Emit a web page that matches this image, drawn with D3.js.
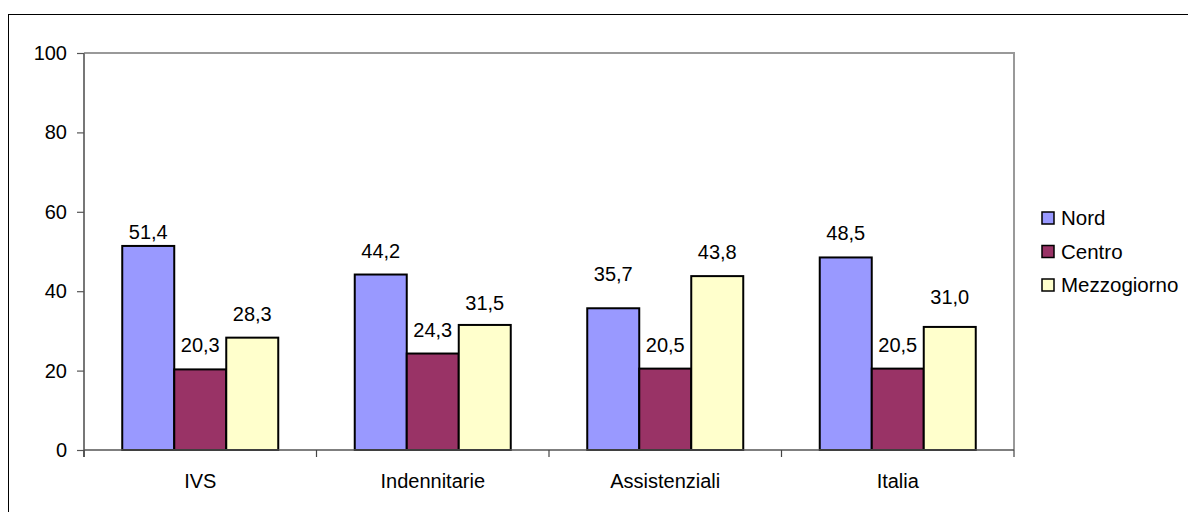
<!DOCTYPE html>
<html><head><meta charset="utf-8">
<script src="https://cdn.jsdelivr.net/npm/d3@7"></script>
<style>body{margin:0;background:#fff}svg{display:block}text{font-family:"Liberation Sans",Arial,sans-serif;fill:#000}</style>
</head><body>
<svg id="c" width="1188" height="512"></svg>
<script>
const categories = ["IVS", "Indennitarie", "Assistenziali", "Italia"];
const seriesNames = ["Nord", "Centro", "Mezzogiorno"];
const nord = [51.4, 44.2, 35.7, 48.5];
const centro = [20.3, 24.3, 20.5, 20.5];
const mezzogiorno = [28.3, 31.5, 43.8, 31.0];
const yTicks = [0, 20, 40, 60, 80, 100];
const colors = ["#9999FF", "#993366", "#FFFFCC"];
// extra label nudges (px) reproducing hand-placed labels
const labelNudge = [[-10, 0, 10, 0], [0, 0, 0, 0], [0, -2, 0, 6]];

const values = [nord, centro, mezzogiorno];
const svg = d3.select("#c");
const L = 84, R = 1014, T = 53, B = 450;

// outer frame
svg.append("rect").attr("x", 8.5).attr("y", 14.5).attr("width", 1300).attr("height", 600)
  .attr("fill", "none").attr("stroke", "#000").attr("stroke-width", 1);

const y = d3.scaleLinear().domain([0, 100]).range([B, T]);
const x0 = d3.scaleBand().domain(categories).range([L, R]).paddingInner(0).paddingOuter(0);
const groupW = x0.bandwidth() * 0.671;
const x1 = d3.scaleBand().domain(seriesNames).range([0, groupW]).padding(0);
const off = (x0.bandwidth() - groupW) / 2;

// plot area border (top/right)
svg.append("path").attr("d", `M${L},${T}H${R}V${B}`).attr("fill", "none")
  .attr("stroke", "#999").attr("stroke-width", 2);

// y axis
const yAxis = d3.axisLeft(y).tickValues(yTicks).tickSize(7).tickPadding(10);
const gy = svg.append("g").attr("transform", `translate(${L},0)`).call(yAxis);
gy.select(".domain").attr("stroke", "#777").attr("stroke-width", 2).attr("d", `M0,${B+7}V${T}`);
gy.selectAll(".tick line").attr("stroke", "#555").attr("stroke-width", 1.2);
gy.selectAll(".tick text").attr("font-size", 20).style("font-family", '"Liberation Sans",Arial,sans-serif').attr("fill", "#000");

// bars
seriesNames.forEach((s, si) => {
  svg.append("g").selectAll("rect").data(categories).join("rect")
    .attr("x", c => x0(c) + off + x1(s))
    .attr("y", (c, i) => y(values[si][i]))
    .attr("width", x1.bandwidth())
    .attr("height", (c, i) => B - y(values[si][i]))
    .attr("fill", colors[si]).attr("stroke", "#000").attr("stroke-width", 2);
});

// x axis
svg.append("line").attr("x1", L).attr("x2", R).attr("y1", B).attr("y2", B)
  .attr("stroke", "#555").attr("stroke-width", 1.5);
const bounds = categories.map(c => x0(c)).concat([R]);
svg.append("g").selectAll("line").data(bounds).join("line")
  .attr("x1", d => d).attr("x2", d => d).attr("y1", B).attr("y2", B + 7)
  .attr("stroke", "#444").attr("stroke-width", 1.2);
svg.append("g").selectAll("text").data(categories).join("text")
  .attr("x", c => x0(c) + x0.bandwidth() / 2).attr("y", 488)
  .attr("text-anchor", "middle").attr("font-size", 20).text(c => c);

// value labels
const fmt = v => v.toFixed(1).replace(".", ",");
seriesNames.forEach((s, si) => {
  svg.append("g").selectAll("text").data(categories).join("text")
    .attr("x", c => x0(c) + off + x1(s) + x1.bandwidth() / 2)
    .attr("y", (c, i) => y(values[si][i]) - 17 - labelNudge[si][i])
    .attr("text-anchor", "middle").attr("font-size", 20)
    .text((c, i) => fmt(values[si][i]));
});

// legend
const lg = svg.append("g").attr("transform", "translate(1042,0)");
seriesNames.forEach((s, si) => {
  const cy = 218 + si * 33.5;
  lg.append("rect").attr("x", 0).attr("y", cy - 6).attr("width", 12).attr("height", 12)
    .attr("fill", colors[si]).attr("stroke", "#000").attr("stroke-width", 1.5);
  lg.append("text").attr("x", 19).attr("y", cy + 7).attr("font-size", 20.5).text(s);
});
</script>
</body></html>
